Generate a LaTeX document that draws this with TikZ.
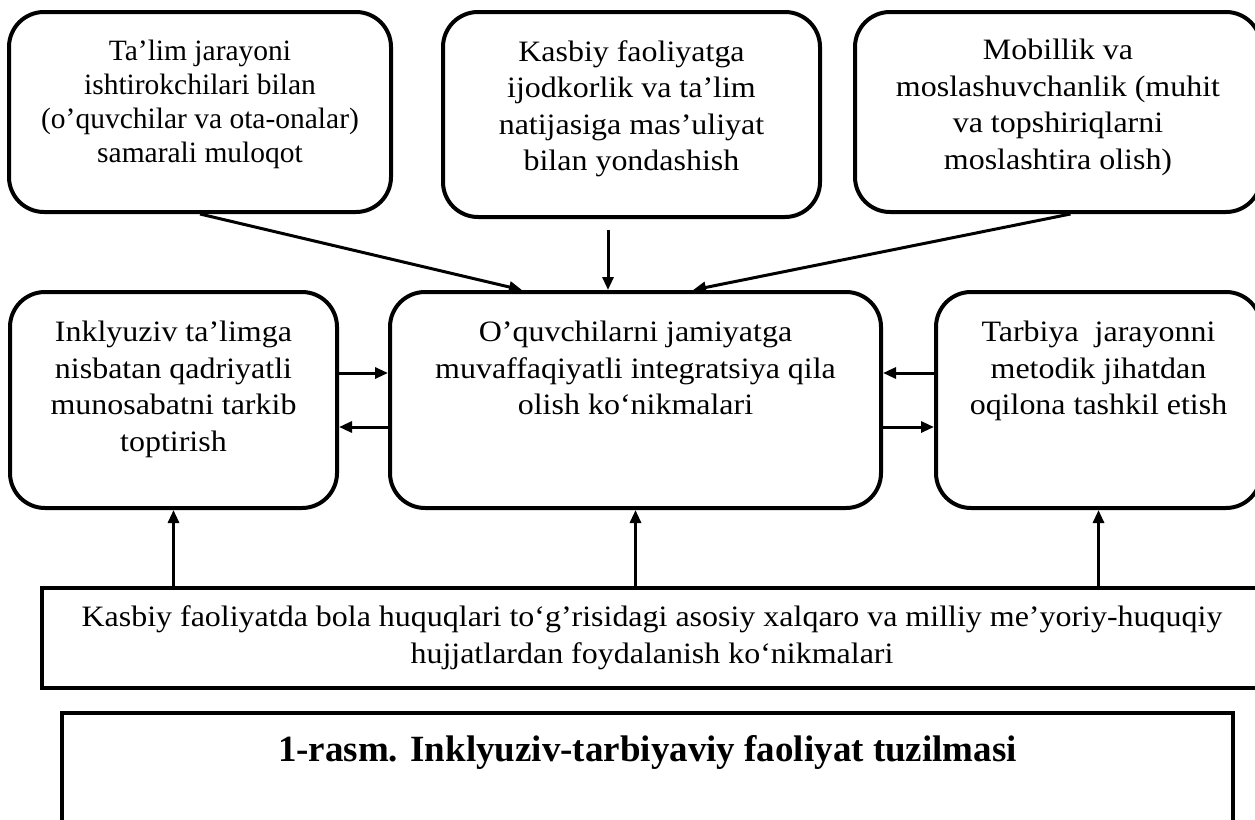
\documentclass[tikz,border=0pt]{standalone}
\usepackage{fontspec}
\setmainfont{Liberation Serif}
\newfontfamily\widerm[FakeStretch=1.08]{Liberation Serif}
\usepackage{tikz}
\usetikzlibrary{arrows.meta, positioning, calc}
\tikzstyle{softbox} = [rectangle, rounded corners=35pt, draw=black, line width=4pt]
\tikzstyle{plainbox} = [rectangle, draw=black, line width=4pt]
\tikzstyle{boxtext} = [align=center, inner sep=0pt, font=\widerm\fontsize{29.6}{36.5}\selectfont]
\tikzstyle{smalltext} = [boxtext, font=\fontsize{29.5}{34}\selectfont]
\tikzstyle{captext} = [align=center, inner sep=0pt, font=\fontsize{37}{44}\selectfont\bfseries]
\tikzstyle{arrow} = [line width=3pt, -{Triangle[length=13pt,width=11pt]}]

\begin{document}
\begin{tikzpicture}[x=1pt, y=-1pt]
\useasboundingbox (0,0) rectangle (1255,819);

\node (talim) [softbox, minimum width=382pt, minimum height=200pt] at (200,112) {};
\node (kasb) [softbox, minimum width=377pt, minimum height=205pt] at (631.5,114.5) {};
\node (mobil) [softbox, minimum width=406pt, minimum height=200pt] at (1058,112) {};
\node (inkl) [softbox, minimum width=327pt, minimum height=216pt] at (173.5,400) {};
\node (integ) [softbox, minimum width=491pt, minimum height=216pt] at (635.5,400) {};
\node (tarb) [softbox, minimum width=325pt, minimum height=216pt] at (1098.5,400) {};
\node (huquq) [plainbox, minimum width=1220pt, minimum height=100pt, boxtext] at (652,638) {Kasbiy faoliyatda bola huquqlari to‘g’risidagi asosiy xalqaro va milliy me’yoriy-huquqiy\\ hujjatlardan foydalanish ko‘nikmalari};
\node (rasm) [plainbox, minimum width=1171pt, minimum height=200pt] at (647.5,813) {};

\node (talimtxt) [smalltext, below=30pt of talim.north] {Ta’lim jarayoni\\ ishtirokchilari bilan\\ (o’quvchilar va ota-onalar)\\ samarali muloqot};
\node (kasbtxt) [boxtext, below=30pt of kasb.north] {Kasbiy faoliyatga\\ ijodkorlik va ta’lim\\ natijasiga mas’uliyat\\ bilan yondashish};
\node (mobiltxt) [boxtext, below=29pt of mobil.north] {Mobillik va\\ moslashuvchanlik (muhit\\ va topshiriqlarni\\ moslashtira olish)};
\node (inkltxt) [boxtext, below=31pt of inkl.north] {Inklyuziv ta’limga\\ nisbatan qadriyatli\\ munosabatni tarkib\\ toptirish};
\node (integtxt) [boxtext, below=31pt of integ.north] {O’quvchilarni jamiyatga\\ muvaffaqiyatli integratsiya qila\\ olish ko‘nikmalari};
\node (tarbtxt) [boxtext, below=31pt of tarb.north] {Tarbiya\ \ jarayonni\\ metodik jihatdan\\ oqilona tashkil etish};
\node (rasmtxt) [captext, below=24pt of rasm.north] {1-rasm. Inklyuziv-tarbiyaviy faoliyat tuzilmasi};

\draw [arrow] (talim.south) -- ([xshift=-113.5pt]integ.north);
\draw [arrow] ([xshift=-23.5pt,yshift=-11pt]kasb.south) -- ([xshift=-27.5pt]integ.north);
\draw [arrow] ([xshift=12.5pt]mobil.south) -- ([xshift=57.5pt]integ.north);
\draw [arrow] ([yshift=27pt]inkl.east) -- ([yshift=27pt]integ.west);
\draw [arrow] ([yshift=-27pt]integ.west) -- ([yshift=-27pt]inkl.east);
\draw [arrow] ([yshift=27pt]tarb.west) -- ([yshift=27pt]integ.east);
\draw [arrow] ([yshift=-27pt]integ.east) -- ([yshift=-27pt]tarb.west);
\draw [arrow] (inkl.south |- huquq.north) -- (inkl.south);
\draw [arrow] (integ.south |- huquq.north) -- (integ.south);
\draw [arrow] (tarb.south |- huquq.north) -- (tarb.south);
\end{tikzpicture}
\end{document}
